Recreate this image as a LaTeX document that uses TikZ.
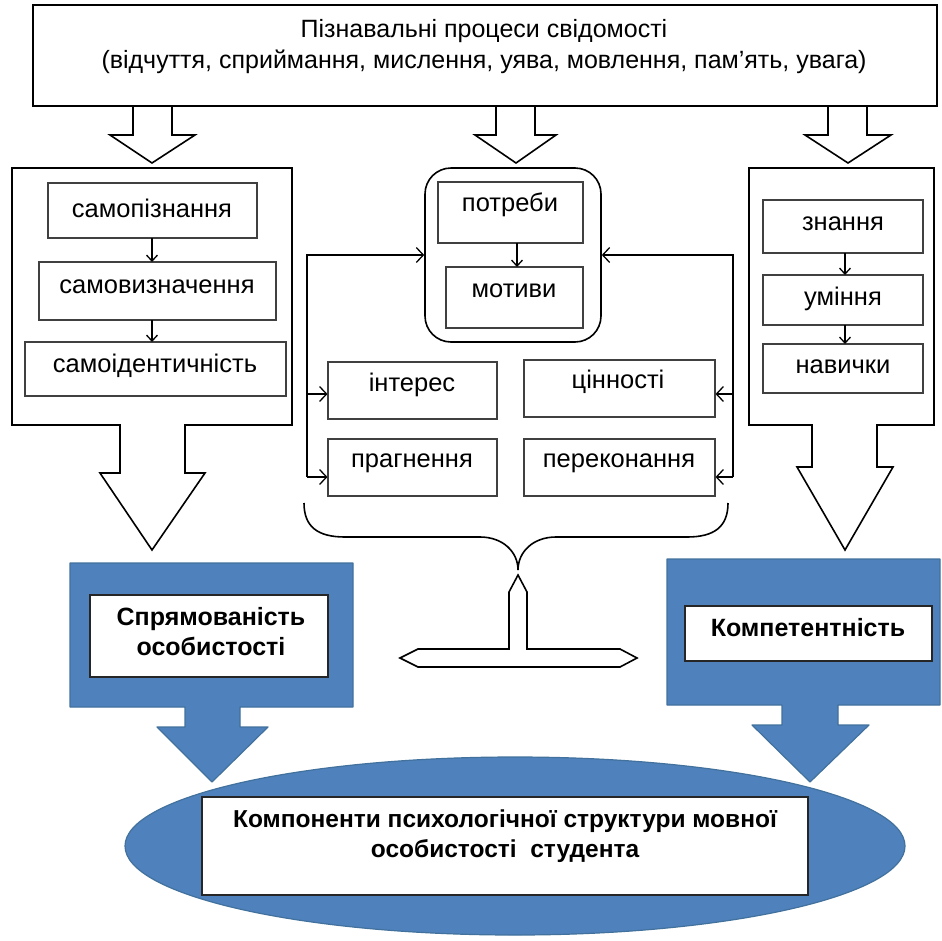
\documentclass[tikz,border=0pt]{standalone}
\usepackage{fontspec}
\setmainfont{Liberation Sans}
\usetikzlibrary{arrows.meta,shapes.geometric}
\definecolor{ofblue}{HTML}{4F81BD}
\definecolor{ofedge}{HTML}{41719C}
\begin{document}
\begin{tikzpicture}[x=1pt,y=-1pt,
  outer/.style={draw=black, line width=1.6pt},
  inbox/.style={draw=black!75, line width=1.1pt, inner sep=0pt},
  wbox/.style={draw=black!85, fill=white, line width=1.1pt, inner sep=0pt},
  txt/.style={font=\fontsize{25.5}{30}\selectfont, inner sep=0pt, align=center},
  btxt/.style={font=\fontsize{25}{30}\selectfont\bfseries, inner sep=0pt, align=center},
  ttxt/.style={font=\fontsize{25}{31}\selectfont, inner sep=0pt, align=center},
  etxt/.style={font=\fontsize{24.5}{30}\selectfont\bfseries, inner sep=0pt, align=center},
  dn/.style={line width=1.3pt, -{Straight Barb[length=6pt,width=11pt,line width=1.3pt]}},
  fb/.style={line width=1.4pt, -{Straight Barb[length=7pt,width=15pt,line width=1.3pt]}},
  blueshape/.style={fill=ofblue, draw=ofedge, line width=1.2pt, line join=round}
]
\useasboundingbox (0,0) rectangle (942,940);

% top box
\node[outer, minimum width=904pt, minimum height=101pt, inner sep=0pt] (top) at (485,55.5) {};
\node[ttxt] (toptxt) at (484,47) {Пізнавальні процеси свідомості\\(відчуття, сприймання, мислення, уява, мовлення, пам’ять, увага)};

% hollow arrows from top box
\draw[outer, line join=miter] (133,106) -- (133,135) -- (110,135) -- (152,163) -- (195,135) -- (172,135) -- (172,106);
\draw[outer, line join=miter] (496,106) -- (496,135) -- (475,135) -- (516,163) -- (556,135) -- (535,135) -- (535,106);
\draw[outer, line join=miter] (828,106) -- (828,135) -- (805,135) -- (848,163) -- (891,135) -- (867,135) -- (867,106);

% left column with big arrow
\draw[outer, line join=miter] (12,168) -- (292,168) -- (292,425) -- (185,425) -- (185,473) -- (205,473) -- (152,550) -- (100,473) -- (120,473) -- (120,425) -- (12,425) -- cycle;
\node[inbox, minimum width=209pt, minimum height=55pt] (sp) at (152.5,210.5) {};
\node[inbox, minimum width=237pt, minimum height=58pt] (sv) at (157.5,291) {};
\node[inbox, minimum width=261pt, minimum height=54pt] (si) at (155.5,369) {};
\node[txt] at (152,208) {самопізнання};
\node[txt] at (157,287) {самовизначення};
\node[txt] at (155,366) {самоідентичність};
\draw[dn] (152,238) -- (152,262);
\draw[dn] (152,320) -- (152,342);

% right column with big arrow
\draw[outer, line join=miter] (749,168) -- (934,168) -- (934,425) -- (877,425) -- (877,467) -- (893,467) -- (845,550) -- (797,467) -- (812,467) -- (812,425) -- (749,425) -- cycle;
\node[inbox, minimum width=160pt, minimum height=53pt] (zn) at (843,226.5) {};
\node[inbox, minimum width=160pt, minimum height=50pt] (um) at (843,300) {};
\node[inbox, minimum width=160pt, minimum height=49pt] (nav) at (843,368.5) {};
\node[txt] at (843,224) {знання};
\node[txt] at (843,299) {уміння};
\node[txt] at (843,367) {навички};
\draw[dn] (845,253) -- (845,275);
\draw[dn] (845,325) -- (845,344);

% centre
\node[outer, rounded corners=26pt, minimum width=176pt, minimum height=174pt, inner sep=0pt] (rb) at (513,255) {};
\node[inbox, minimum width=145pt, minimum height=61pt] (pot) at (510.5,212.5) {};
\node[inbox, minimum width=137pt, minimum height=61pt] (mot) at (514.5,297.5) {};
\node[txt] at (510,205) {потреби};
\node[txt] at (514,291) {мотиви};
\draw[dn] (517,243) -- (517,267);

\node[inbox, minimum width=169pt, minimum height=57pt] (int) at (412.5,390.5) {};
\node[inbox, minimum width=191pt, minimum height=57pt] (cin) at (619.5,388.5) {};
\node[inbox, minimum width=169pt, minimum height=57pt] (prag) at (412.5,467.5) {};
\node[inbox, minimum width=191pt, minimum height=57pt] (per) at (619.5,467.5) {};
\node[txt] at (412,385) {інтерес};
\node[txt] at (618,382) {цінності};
\node[txt] at (412,463) {прагнення};
\node[txt] at (619,463) {переконання};

% feedback lines
\coordinate (lbot) at (307,477);
\coordinate (lmid) at (307,394);
\coordinate (rbot) at (733,477);
\coordinate (rmid) at (733,394);
\draw[fb] (lbot) |- (rb.west);
\draw[fb] (lmid) -- (lmid -| int.west);
\draw[fb] (lbot) -- (lbot -| prag.west);
\draw[fb] (rbot) |- (rb.east);
\draw[fb] (rmid) -- (rmid -| cin.east);
\draw[fb] (rbot) -- (rbot -| per.east);

% brace
\draw[line width=1.6pt] (304,503) .. controls (304,527) and (318,537) .. (345,537) -- (480,537)
  .. controls (503,537) and (518,552) .. (518,570)
  .. controls (518,552) and (533,537) .. (556,537) -- (687,537)
  .. controls (714,537) and (728,527) .. (728,503);

% T-shaped double arrow
\draw[line width=1.6pt, line join=miter] (518,575) -- (527,592) -- (527,649) -- (620,649) -- (637,658) -- (620,667) -- (418,667) -- (400,658) -- (418,649) -- (509,649) -- (509,592) -- cycle;

% blue callouts
\draw[blueshape] (70,563) -- (353,563) -- (353,707) -- (240,707) -- (240,727) -- (268,727) -- (212,782) -- (157,727) -- (185,727) -- (185,707) -- (70,707) -- cycle;
\node[wbox, minimum width=238pt, minimum height=82pt] (spr) at (209,636) {};
\node[btxt] at (211,632) {Спрямованість\\особистості};

\draw[blueshape] (667,559) -- (940,559) -- (940,705) -- (838,705) -- (838,725) -- (869,725) -- (810,782) -- (752,725) -- (782,725) -- (782,705) -- (667,705) -- cycle;
\node[wbox, minimum width=247pt, minimum height=55pt] (komp) at (808.5,633.5) {};
\node[btxt] at (808,628) {Компетентність};

% ellipse
\node[ellipse, fill=ofblue, draw=ofedge, line width=1.2pt, minimum width=780pt, minimum height=178pt, inner sep=0pt] (ell) at (515,846) {};
\node[wbox, minimum width=606pt, minimum height=98pt] (comp) at (505,846) {};
\node[etxt] at (505,836) {Компоненти психологічної структури мовної\\особистості\ \ студента};
\end{tikzpicture}
\end{document}
